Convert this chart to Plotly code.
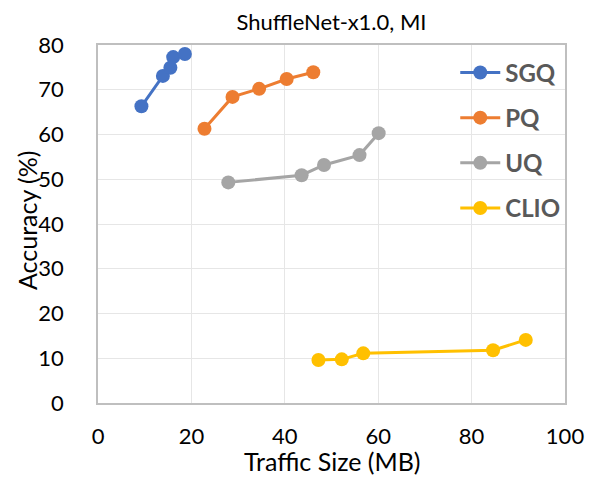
import plotly.graph_objects as go

series_names = ["SGQ", "PQ", "UQ", "CLIO"]
sgq_x = [9.3, 13.9, 15.5, 16.1, 18.6]
sgq_y = [66.3, 73.1, 74.9, 77.3, 78.0]
pq_x = [22.8, 28.8, 34.5, 40.4, 46.1]
pq_y = [61.3, 68.4, 70.2, 72.4, 73.9]
uq_x = [27.9, 43.6, 48.4, 56.0, 60.1]
uq_y = [49.3, 50.9, 53.2, 55.4, 60.3]
clio_x = [47.2, 52.2, 56.8, 84.6, 91.6]
clio_y = [9.6, 9.75, 11.1, 11.8, 14.1]
colors = ["#4472C4", "#ED7D31", "#A5A5A5", "#FFC000"]

xs = [sgq_x, pq_x, uq_x, clio_x]
ys = [sgq_y, pq_y, uq_y, clio_y]

FONT = "Lato, 'Open Sans', sans-serif"
W, H = 590, 479
L, R, T, B = 98, 25, 45, 76

fig = go.Figure()
for name, x, y, c in zip(series_names, xs, ys, colors):
    fig.add_trace(go.Scatter(
        x=x, y=y, name=name, mode="lines+markers",
        line=dict(color=c, width=3),
        marker=dict(color=c, size=14),
        legendgroup=name,
    ))

pw = W - L - R
ph = H - T - B

fig.add_annotation(
    text="Accuracy (%)", textangle=-90, showarrow=False,
    xref="paper", yref="paper",
    x=(27 - L) / pw, y=(H - B - 220) / ph,
    xanchor="center", yanchor="middle",
    font=dict(family=FONT, size=25, color="#000000"),
)
fig.add_annotation(
    text="Traffic Size (MB)", showarrow=False,
    xref="paper", yref="paper",
    x=(332 - L) / pw, y=-(461 - (H - B)) / ph,
    xanchor="center", yanchor="middle",
    font=dict(family=FONT, size=25, color="#000000"),
)

fig.update_layout(
    width=W, height=H,
    margin=dict(l=L, r=R, t=T, b=B, autoexpand=False),
    paper_bgcolor="white", plot_bgcolor="white",
    title=dict(text="ShuffleNet-x1.0, MI", x=0.5, xanchor="center",
               xref="paper", y=1 - 22 / H, yanchor="middle",
               font=dict(family=FONT, size=22, color="#000000")),
    font=dict(family=FONT, color="#000000"),
    showlegend=True,
    legend=dict(
        x=0.765, y=0.985, xanchor="left", yanchor="top",
        bgcolor="rgba(0,0,0,0)",
        font=dict(family=FONT, size=24, color="#595959", weight="bold"),
        traceorder="grouped", tracegroupgap=11,
        itemwidth=40,
    ),
    xaxis=dict(
        range=[0, 100], dtick=20, tick0=0, automargin=False,
        showgrid=True, gridcolor="#e6e6e6", gridwidth=1,
        showline=True, linecolor="#bfbfbf", linewidth=1.5, mirror=True,
        zeroline=False, ticks="",
        tickfont=dict(family=FONT, size=22, color="#000000"),
        ticklabelstandoff=13,
    ),
    yaxis=dict(
        range=[0, 80], dtick=10, tick0=0, automargin=False,
        showgrid=True, gridcolor="#e6e6e6", gridwidth=1,
        showline=True, linecolor="#bfbfbf", linewidth=1.5, mirror=True,
        zeroline=False, ticks="",
        tickfont=dict(family=FONT, size=22, color="#000000"),
        ticklabelstandoff=28,
    ),
)

fig.write_html("out.html", config={"displayModeBar": False},
               post_script="document.body.style.margin='0';")
